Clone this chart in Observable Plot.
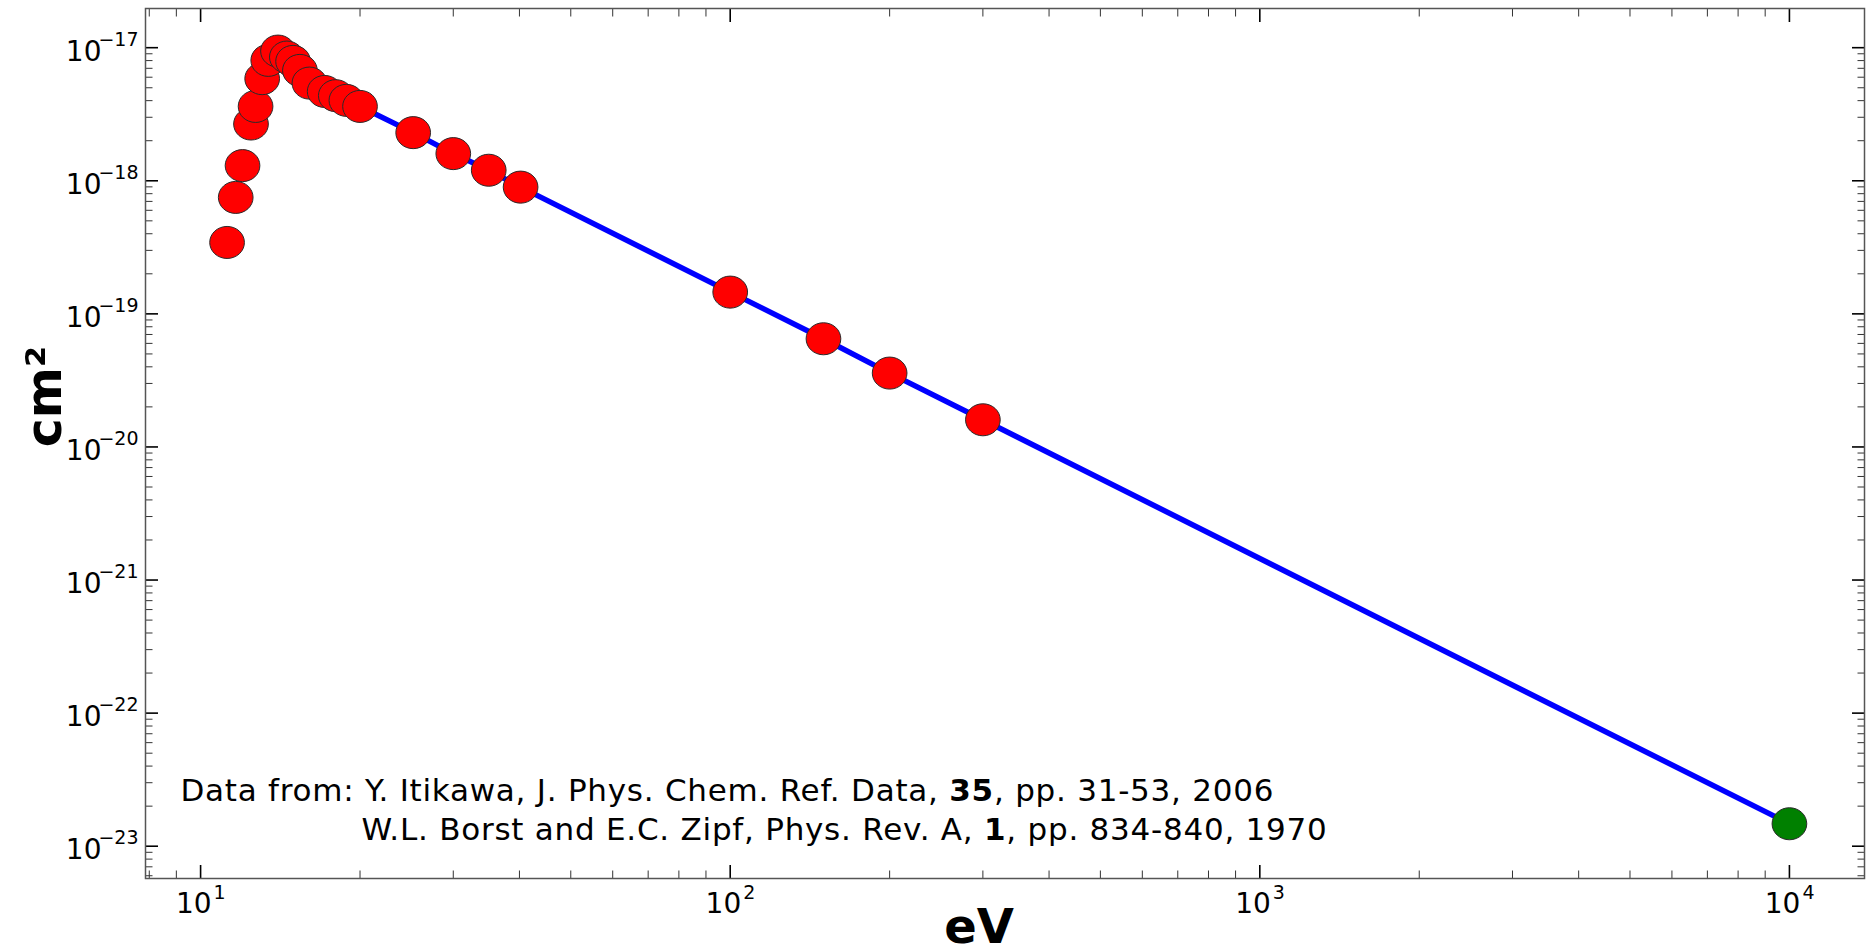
<!DOCTYPE html>
<html><head><meta charset="utf-8">
<script src="https://cdn.jsdelivr.net/npm/d3@7"></script>
<script src="https://cdn.jsdelivr.net/npm/@observablehq/plot@0.6"></script>
<style>
html,body{margin:0;padding:0;background:#fff;overflow:hidden}
#chart{width:1872px;height:944px}
</style></head><body><div id="chart"></div>
<script>
// ---- data ----
const energyRed = [11.22, 11.65, 12.0, 12.45, 12.7, 13.07, 13.42, 14.0, 14.55, 14.95, 15.4, 16.05, 17.15, 18.0, 18.85, 20.0, 25.2, 30.0, 35.0, 40.2, 100, 150, 200, 300];
const sigmaRed  = [3.44e-19, 7.50e-19, 1.30e-18, 2.67e-18, 3.62e-18, 5.85e-18, 8.03e-18, 9.43e-18, 8.50e-18, 7.89e-18, 6.75e-18, 5.42e-18, 4.69e-18, 4.36e-18, 4.02e-18, 3.62e-18, 2.30e-18, 1.60e-18, 1.20e-18, 8.96e-19, 1.457e-19, 6.50e-20, 3.59e-20, 1.60e-20];
const energyGreen = [10000];
const sigmaGreen  = [1.475e-23];
const lineStartEnergy = 20;   // blue line runs from 20 eV to the green point

const xTicks = [10, 100, 1000, 10000];
const yTicks = [1e-17, 1e-18, 1e-19, 1e-20, 1e-21, 1e-22, 1e-23];
const xDomain = [7.87, 13860];
const yDomain = [5.72e-24, 1.97e-17];

const noteParts = [
  ["Data from: Y. Itikawa, J. Phys. Chem. Ref. Data, ", "35", ", pp. 31-53, 2006"],
  ["W.L. Borst and E.C. Zipf, Phys. Rev. A, ", "1", ", pp. 834-840, 1970"]
];
const noteLines = noteParts.map(p => p.join(""));
const xLabel = "eV";
const yLabel = "cm²";

// ---- tables ----
const red = energyRed.map((e, i) => ({e, s: sigmaRed[i]}));
const green = energyGreen.map((e, i) => ({e, s: sigmaGreen[i]}));
const line = red.filter(d => d.e >= lineStartEnergy).concat(green);

const minorX = [];
for (let k = 0; k <= 4; k++) for (let m = 2; m <= 9; m++) { const v = m * 10 ** k; if (v > xDomain[0] && v < xDomain[1]) minorX.push(v); }
const minorY = [];
for (let k = -24; k <= -17; k++) for (let m = 2; m <= 9; m++) { const v = m * 10 ** k; if (v > yDomain[0] && v < yDomain[1]) minorY.push(v); }

const ellipse = {
  draw(ctx, size) {
    const r = Math.sqrt(size / Math.PI), rx = r * 1.045, ry = r * 0.965, k = 0.5522847498;
    ctx.moveTo(rx, 0);
    ctx.bezierCurveTo(rx, k * ry, k * rx, ry, 0, ry);
    ctx.bezierCurveTo(-k * rx, ry, -rx, k * ry, -rx, 0);
    ctx.bezierCurveTo(-rx, -k * ry, -k * rx, -ry, 0, -ry);
    ctx.bezierCurveTo(k * rx, -ry, rx, -k * ry, rx, 0);
    ctx.closePath();
  }
};

const blank = () => "";
const majorStyle = {stroke: "#000", strokeWidth: 1.6, tickFormat: blank, label: null};
const minorStyle = {stroke: "#333", strokeWidth: 1, tickFormat: blank, label: null};

const chart = Plot.plot({
  width: 1872, height: 944,
  marginLeft: 145, marginRight: 8, marginTop: 8, marginBottom: 66,
  x: {type: "log", domain: xDomain, label: null},
  y: {type: "log", domain: yDomain, label: null},
  style: {background: "white", fontFamily: "DejaVu Sans", color: "#000"},
  marks: [
    Plot.axisX({anchor: "bottom", ticks: xTicks, tickSize: -13, ...majorStyle}),
    Plot.axisX({anchor: "top", ticks: xTicks, tickSize: -13, ...majorStyle}),
    Plot.axisX({anchor: "bottom", ticks: minorX, tickSize: -7.5, ...minorStyle}),
    Plot.axisX({anchor: "top", ticks: minorX, tickSize: -7.5, ...minorStyle}),
    Plot.axisY({anchor: "left", ticks: yTicks, tickSize: -13, ...majorStyle}),
    Plot.axisY({anchor: "right", ticks: yTicks, tickSize: -13, ...majorStyle}),
    Plot.axisY({anchor: "left", ticks: minorY, tickSize: -7.5, ...minorStyle}),
    Plot.axisY({anchor: "right", ticks: minorY, tickSize: -7.5, ...minorStyle}),
    Plot.frame({stroke: "#555", strokeWidth: 1.5}),
    // tick labels 10^n
    Plot.text(xTicks, {x: d => d, frameAnchor: "bottom", text: () => "10", textAnchor: "end", lineAnchor: "bottom", dx: 11, dy: 34, fontSize: 28, fill: "#000"}),
    Plot.text(xTicks, {x: d => d, frameAnchor: "bottom", text: d => String(Math.round(Math.log10(d))), textAnchor: "start", lineAnchor: "bottom", dx: 13, dy: 20, fontSize: 19, fill: "#000"}),
    Plot.text(yTicks, {y: d => d, frameAnchor: "left", text: () => "10", textAnchor: "end", lineAnchor: "bottom", dx: -44, dy: 13, fontSize: 28, fill: "#000"}),
    Plot.text(yTicks, {y: d => d, frameAnchor: "left", text: d => "\u2212" + Math.round(-Math.log10(d)), textAnchor: "end", lineAnchor: "bottom", dx: -7, dy: -2, fontSize: 19, fill: "#000"}),
    // series
    Plot.line(line, {x: "e", y: "s", stroke: "#0000ff", strokeWidth: 5.5}),
    Plot.dot(red, {x: "e", y: "s", r: 16.6, symbol: ellipse, fill: "#ff0000", stroke: "#2a2a2a", strokeWidth: 1}),
    Plot.dot(green, {x: "e", y: "s", r: 16.6, symbol: ellipse, fill: "#008000", stroke: "#2a2a2a", strokeWidth: 1}),
    // annotation
    Plot.text([noteLines[0]], {text: d => d, frameAnchor: "bottom-left", textAnchor: "start", lineAnchor: "bottom", dx: 35, dy: -78, fontSize: 31, fill: "#000"}),
    Plot.text([noteLines[1]], {text: d => d, frameAnchor: "bottom-left", textAnchor: "start", lineAnchor: "bottom", dx: 216, dy: -39, fontSize: 31, fill: "#000"}),
    // axis titles
    Plot.text([xLabel], {text: d => d, frameAnchor: "bottom", textAnchor: "middle", lineAnchor: "bottom", dx: -26, dy: 64, fontSize: 48, fontWeight: "bold", fill: "#000"}),
    Plot.text([yLabel], {text: d => d, frameAnchor: "left", rotate: -90, textAnchor: "middle", lineAnchor: "bottom", dx: -85, dy: -47, fontSize: 49, fontWeight: "bold", fill: "#000"})
  ]
});

// bold volume numbers inside the reference note, and a slightly wider set
chart.querySelectorAll("text").forEach(t => {
  const idx = noteLines.indexOf(t.textContent);
  if (idx < 0) return;
  t.textContent = "";
  t.setAttribute("letter-spacing", "0.75");
  noteParts[idx].forEach((p, j) => {
    const ts = document.createElementNS("http://www.w3.org/2000/svg", "tspan");
    ts.textContent = p;
    if (j === 1) ts.setAttribute("font-weight", "bold");
    t.appendChild(ts);
  });
});

document.getElementById("chart").appendChild(chart);
</script>
</body></html>
